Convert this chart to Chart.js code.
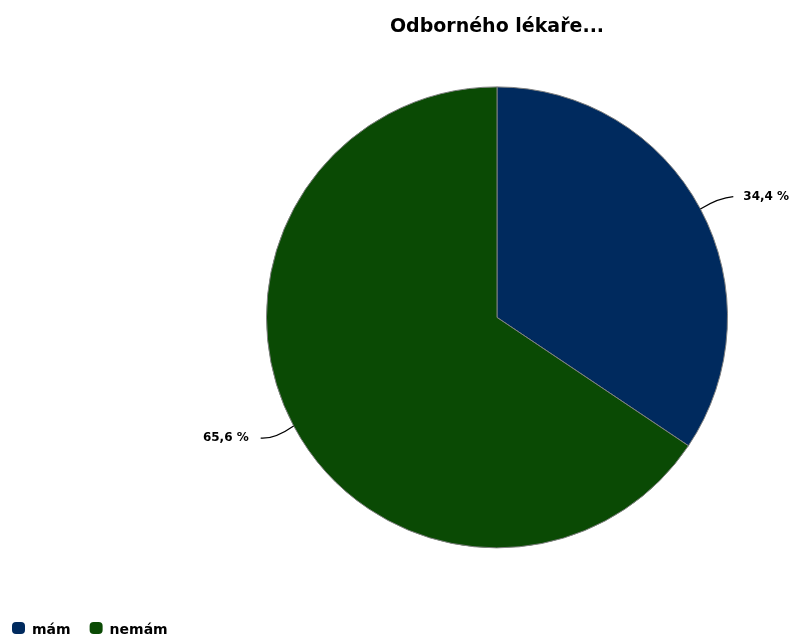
<!DOCTYPE html>
<html>
<head>
<meta charset="utf-8">
<script src="https://cdn.jsdelivr.net/npm/chart.js@4.4.1/dist/chart.umd.min.js"></script>
<style>
  html, body { margin: 0; padding: 0; background: #fff; }
  #wrap { width: 797px; height: 637px; }
</style>
</head>
<body>
<div id="wrap"><canvas id="pie" width="797" height="637"></canvas></div>
<script>
// Data
const titleText = "Odborného lékaře...";
const categories = ["mám", "nemám"];
const shares = [34.4, 65.6];
const sliceColors = ["#002a5e", "#0a4a04"];

const fontFamily = "'DejaVu Sans', Verdana, sans-serif";

// Percent labels with short leader lines outside each slice
const outsideLabels = {
  id: "outsideLabels",
  afterDatasetsDraw(chart) {
    const { ctx } = chart;
    const meta = chart.getDatasetMeta(0);
    ctx.save();
    ctx.font = "bold 12px " + fontFamily;
    ctx.textBaseline = "middle";
    ctx.strokeStyle = "#000";
    ctx.lineWidth = 1.2;
    meta.data.forEach((arc, i) => {
      const mid = (arc.startAngle + arc.endAngle) / 2;
      const r = arc.outerRadius;
      const x0 = arc.x + r * Math.cos(mid);
      const y0 = arc.y + r * Math.sin(mid);
      const x1 = arc.x + (r + 26) * Math.cos(mid);
      const y1 = arc.y + (r + 26) * Math.sin(mid);
      const right = Math.cos(mid) >= 0;
      const x2 = x1 + (right ? 10 : -10);
      ctx.beginPath();
      ctx.moveTo(x0, y0);
      ctx.quadraticCurveTo(x1 - (right ? 4 : -4), y1 + 1, x2, y1);
      ctx.stroke();
      const txt = shares[i].toFixed(1).replace(".", ",") + " %";
      ctx.fillStyle = "#000";
      ctx.textAlign = right ? "left" : "right";
      ctx.fillText(txt, x2 + (right ? 10 : -12), y1);
    });
    ctx.restore();
  }
};

// Legend in the bottom-left corner
const cornerLegend = {
  id: "cornerLegend",
  afterDraw(chart) {
    const { ctx } = chart;
    const colors = chart.data.datasets[0].backgroundColor;
    let x = 12;
    const y = 628;
    ctx.save();
    ctx.font = "bold 14px " + fontFamily;
    ctx.textBaseline = "alphabetic";
    ctx.textAlign = "left";
    chart.data.labels.forEach((lab, i) => {
      ctx.fillStyle = colors[i];
      ctx.beginPath();
      ctx.roundRect(x, y - 6, 13, 12, 4);
      ctx.fill();
      ctx.fillStyle = "#000";
      ctx.fillText(lab, x + 20, 634);
      x += 20 + ctx.measureText(lab).width + 19;
    });
    ctx.restore();
  }
};

new Chart(document.getElementById("pie"), {
  type: "pie",
  data: {
    labels: categories,
    datasets: [{
      data: shares,
      backgroundColor: sliceColors,
      borderColor: "#7f8080",
      borderWidth: 1,
      hoverOffset: 0
    }]
  },
  options: {
    responsive: false,
    animation: false,
    events: [],
    layout: { padding: { left: 266, right: 69, top: 0, bottom: 88 } },
    plugins: {
      legend: { display: false },
      tooltip: { enabled: false },
      title: {
        display: true,
        text: titleText,
        color: "#000",
        font: { family: fontFamily, size: 19, weight: "bold" },
        padding: { top: 16, bottom: 47 }
      }
    }
  },
  plugins: [outsideLabels, cornerLegend]
});
</script>
</body>
</html>
